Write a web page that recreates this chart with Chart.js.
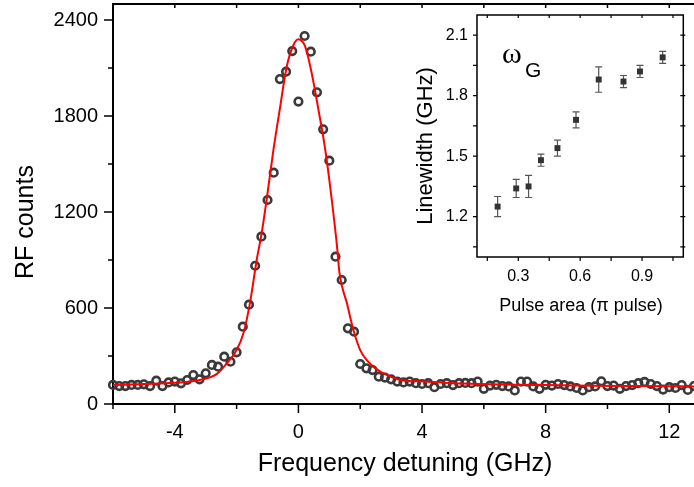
<!DOCTYPE html>
<html><head><meta charset="utf-8">
<script src="https://cdn.jsdelivr.net/npm/chart.js@4.4.0/dist/chart.umd.min.js"></script>
<style>
html,body{margin:0;padding:0;background:#fff;}
#wrap{position:relative;width:694px;height:487px;overflow:hidden;background:#fff;}
#main{position:absolute;left:0;top:0;}
#inset{position:absolute;left:400px;top:0;}
</style></head><body>
<div id="wrap">
<canvas id="main" width="694" height="487"></canvas>
<canvas id="inset" width="294" height="330"></canvas>
</div>
<script>
// ---- Main panel data ----
const detuning = [-6.0,-5.8,-5.6,-5.4,-5.2,-5.0,-4.8,-4.6,-4.4,-4.2,-4.0,-3.8,-3.6,-3.4,-3.2,-3.0,-2.8,-2.6,-2.4,-2.2,-2.0,-1.8,-1.6,-1.4,-1.2,-1.0,-0.8,-0.6,-0.4,-0.2,
 0.0,0.2,0.4,0.6,0.8,1.0,1.2,1.4,1.6,1.8,2.0,2.2,2.4,2.6,2.8,3.0,3.2,3.4,3.6,3.8,4.0,4.2,4.4,4.6,4.8,5.0,5.2,5.4,5.6,5.8,6.0,6.2,6.4,6.6,6.8,7.0,7.2,7.4,7.6,7.8,
 8.0,8.2,8.4,8.6,8.8,9.0,9.2,9.4,9.6,9.8,10.0,10.2,10.4,10.6,10.8,11.0,11.2,11.4,11.6,11.8,12.0,12.2,12.4,12.6,12.8];
const rfCounts = [119,112,112,119,119,123,112,146,112,135,140,129,150,181,154,192,244,233,296,264,323,483,621,864,1046,1275,1446,2031,2077,2206,
 1890,2300,2202,1948,1717,1521,921,775,473,452,250,223,212,171,165,154,140,135,140,130,125,130,105,125,130,118,130,132,130,140,95,115,120,112,110,85,140,140,110,95,
 120,115,125,118,110,100,85,105,110,142,112,115,95,112,118,130,138,125,112,90,105,100,118,88,112];
const fitDetuning = [-6,-5,-4,-3.2,-2.65,-2.32,-2.0,-1.78,-1.57,-1.35,-1.19,-1.03,-0.81,-0.59,-0.38,-0.16,0,0.22,0.43,0.65,0.87,1.08,1.25,1.33,1.57,1.78,2.0,2.43,2.87,3.3,4.05,5,6.2,8,9.46,11,12.8];
const fitCounts = [119,125,133,150,187,254,337,442,629,900,1067,1275,1587,1858,2108,2244,2279,2233,2067,1837,1587,1275,983,817,629,462,337,233,181,150,140,130,123,118,114,112,110];
const mainXMajorTicks = [-4,0,4,8,12];
const mainXMinorTicks = [-6,-2,2,6,10];
const mainYMajorTicks = [0,600,1200,1800,2400];
const mainYMinorTicks = [300,900,1500,2100];

// ---- Inset data ----
const pulseArea = [0.20,0.29,0.35,0.41,0.49,0.58,0.69,0.81,0.89,1.00];
const linewidth = [1.25,1.34,1.35,1.48,1.54,1.68,1.88,1.87,1.92,1.99];
const linewidthErr = [0.05,0.045,0.055,0.03,0.04,0.04,0.063,0.03,0.03,0.03];
const insetXMajorTicks = [0.3,0.6,0.9];
const insetXMinorTicks = [0.15,0.45,0.75,1.05];
const insetYMajorTicks = [1.2,1.5,1.8,2.1];
const insetYMinorTicks = [1.05,1.35,1.65,1.95];

const FONT = 'Liberation Sans, Arial, sans-serif';

function zeroPad(s){ s.paddingTop=0; s.paddingBottom=0; s.paddingLeft=0; s.paddingRight=0; }

const mainDecor = {
  id:'mainDecor',
  afterDraw(chart){
    const ctx = chart.ctx, a = chart.chartArea, xs = chart.scales.x, ys = chart.scales.y;
    ctx.save();
    ctx.strokeStyle = '#000';
    ctx.lineWidth = 2;
    ctx.beginPath(); ctx.moveTo(a.left-1, a.top); ctx.lineTo(a.right+2, a.top); ctx.stroke();
    ctx.lineWidth = 1.5;
    ctx.beginPath();
    mainYMajorTicks.forEach(v=>{const y=ys.getPixelForValue(v); ctx.moveTo(a.left-9,y); ctx.lineTo(a.left,y);});
    mainYMinorTicks.forEach(v=>{const y=ys.getPixelForValue(v); ctx.moveTo(a.left-5,y); ctx.lineTo(a.left,y);});
    mainXMajorTicks.forEach(v=>{const x=xs.getPixelForValue(v); ctx.moveTo(x,a.bottom); ctx.lineTo(x,a.bottom+9); ctx.moveTo(x,a.top); ctx.lineTo(x,a.top+4);});
    mainXMinorTicks.forEach(v=>{const x=xs.getPixelForValue(v); ctx.moveTo(x,a.bottom); ctx.lineTo(x,a.bottom+5); ctx.moveTo(x,a.top); ctx.lineTo(x,a.top+4);});
    ctx.stroke();
    ctx.fillStyle = '#000';
    ctx.font = '25px ' + FONT;
    ctx.textAlign = 'center'; ctx.textBaseline = 'alphabetic';
    ctx.fillText('Frequency detuning (GHz)', 405, 471);
    ctx.translate(33, 222); ctx.rotate(-Math.PI/2);
    ctx.fillText('RF counts', 0, 0);
    ctx.restore();
  }
};

new Chart(document.getElementById('main'), {
  type:'scatter',
  data:{datasets:[
    {label:'fit', data: fitDetuning.map((x,i)=>({x, y: fitCounts[i]})), showLine:true, borderColor:'#ff0000', borderWidth:2, pointRadius:0, cubicInterpolationMode:'monotone', fill:false, order:0},
    {label:'data', data: detuning.map((x,i)=>({x, y: rfCounts[i]})), showLine:false, pointRadius:3.8, pointHoverRadius:3.8, pointBorderWidth:2.6, pointBorderColor:'#3a3a3a', pointBackgroundColor:'rgba(0,0,0,0)', clip:false, order:1}
  ]},
  options:{
    responsive:false, animation:false, devicePixelRatio:1, events:[],
    layout:{autoPadding:false, padding:{top:4,right:0,left:0,bottom:0}},
    plugins:{legend:{display:false}, tooltip:{enabled:false}},
    scales:{
      x:{type:'linear', min:-6, max:12.8,
        afterFit:s=>{s.height=83; zeroPad(s);},
        afterBuildTicks:s=>{s.ticks=mainXMajorTicks.map(v=>({value:v}));},
        ticks:{padding:16, font:{family:FONT, size:20}, color:'#000', callback:v=>String(v), maxRotation:0, autoSkip:false},
        grid:{display:false, drawTicks:false},
        border:{display:true, color:'#000', width:2}},
      y:{type:'linear', min:0, max:2500,
        afterFit:s=>{s.width=113; zeroPad(s);},
        afterBuildTicks:s=>{s.ticks=mainYMajorTicks.map(v=>({value:v}));},
        ticks:{padding:15, font:{family:FONT, size:20}, color:'#000', callback:v=>String(v), autoSkip:false},
        grid:{display:false, drawTicks:false},
        border:{display:true, color:'#000', width:2}}
    }
  },
  plugins:[mainDecor]
});

const insetDecor = {
  id:'insetDecor',
  beforeDatasetsDraw(chart){
    const ctx = chart.ctx, xs = chart.scales.x, ys = chart.scales.y;
    ctx.save();
    ctx.strokeStyle = '#555'; ctx.lineWidth = 1.2;
    ctx.beginPath();
    pulseArea.forEach((p,i)=>{
      const x = xs.getPixelForValue(p);
      const y1 = ys.getPixelForValue(linewidth[i]+linewidthErr[i]);
      const y2 = ys.getPixelForValue(linewidth[i]-linewidthErr[i]);
      ctx.moveTo(x,y1); ctx.lineTo(x,y2);
      ctx.moveTo(x-3.5,y1); ctx.lineTo(x+3.5,y1);
      ctx.moveTo(x-3.5,y2); ctx.lineTo(x+3.5,y2);
    });
    ctx.stroke();
    ctx.restore();
  },
  afterDraw(chart){
    const ctx = chart.ctx, a = chart.chartArea, xs = chart.scales.x, ys = chart.scales.y;
    ctx.save();
    ctx.strokeStyle = '#000'; ctx.lineWidth = 1.5;
    ctx.strokeRect(a.left, a.top, a.right-a.left, a.bottom-a.top);
    ctx.lineWidth = 1.2;
    ctx.beginPath();
    insetYMajorTicks.concat(insetYMinorTicks).forEach(v=>{const y=ys.getPixelForValue(v);
      ctx.moveTo(a.left-4,y); ctx.lineTo(a.left,y); ctx.moveTo(a.right-3,y); ctx.lineTo(a.right+2,y);});
    insetXMajorTicks.concat(insetXMinorTicks).forEach(v=>{const x=xs.getPixelForValue(v);
      ctx.moveTo(x,a.bottom); ctx.lineTo(x,a.bottom+4); ctx.moveTo(x,a.top); ctx.lineTo(x,a.top+3);});
    ctx.stroke();
    ctx.fillStyle = '#000';
    ctx.textBaseline = 'alphabetic'; ctx.textAlign = 'center';
    ctx.font = '18px ' + FONT;
    ctx.fillText('Pulse area (\u03C0 pulse)', 181, 311);
    ctx.save();
    ctx.font = '22px ' + FONT;
    ctx.translate(32, 146); ctx.rotate(-Math.PI/2);
    ctx.fillText('Linewidth (GHz)', 0, 0);
    ctx.restore();
    ctx.textAlign = 'left';
    ctx.font = '30px Liberation Serif, serif';
    ctx.fillText('\u03C9', 102, 63);
    ctx.font = '21px ' + FONT;
    ctx.fillText('G', 125, 77);
    ctx.restore();
  }
};

new Chart(document.getElementById('inset'), {
  type:'scatter',
  data:{datasets:[
    {label:'linewidth', data: pulseArea.map((x,i)=>({x, y: linewidth[i]})), pointStyle:'rect', pointRadius:4.2, pointHoverRadius:4.2, pointBackgroundColor:'#333', pointBorderColor:'#333', pointBorderWidth:0, clip:false}
  ]},
  options:{
    responsive:false, animation:false, devicePixelRatio:1, events:[],
    layout:{autoPadding:false, padding:{top:15,right:10.7,left:0,bottom:0}},
    plugins:{legend:{display:false}, tooltip:{enabled:false}},
    scales:{
      x:{type:'linear', min:0.1, max:1.1,
        afterFit:s=>{s.height=73; zeroPad(s);},
        afterBuildTicks:s=>{s.ticks=insetXMajorTicks.map(v=>({value:v}));},
        ticks:{padding:10, font:{family:FONT, size:16}, color:'#000', callback:v=>v.toFixed(1), maxRotation:0, autoSkip:false},
        grid:{display:false, drawTicks:false},
        border:{display:false}},
      y:{type:'linear', min:1.0, max:2.2,
        afterFit:s=>{s.width=77; zeroPad(s);},
        afterBuildTicks:s=>{s.ticks=insetYMajorTicks.map(v=>({value:v}));},
        ticks:{padding:9, font:{family:FONT, size:16}, color:'#000', callback:v=>v.toFixed(1), autoSkip:false},
        grid:{display:false, drawTicks:false},
        border:{display:false}}
    }
  },
  plugins:[insetDecor]
});
</script>
</body></html>
